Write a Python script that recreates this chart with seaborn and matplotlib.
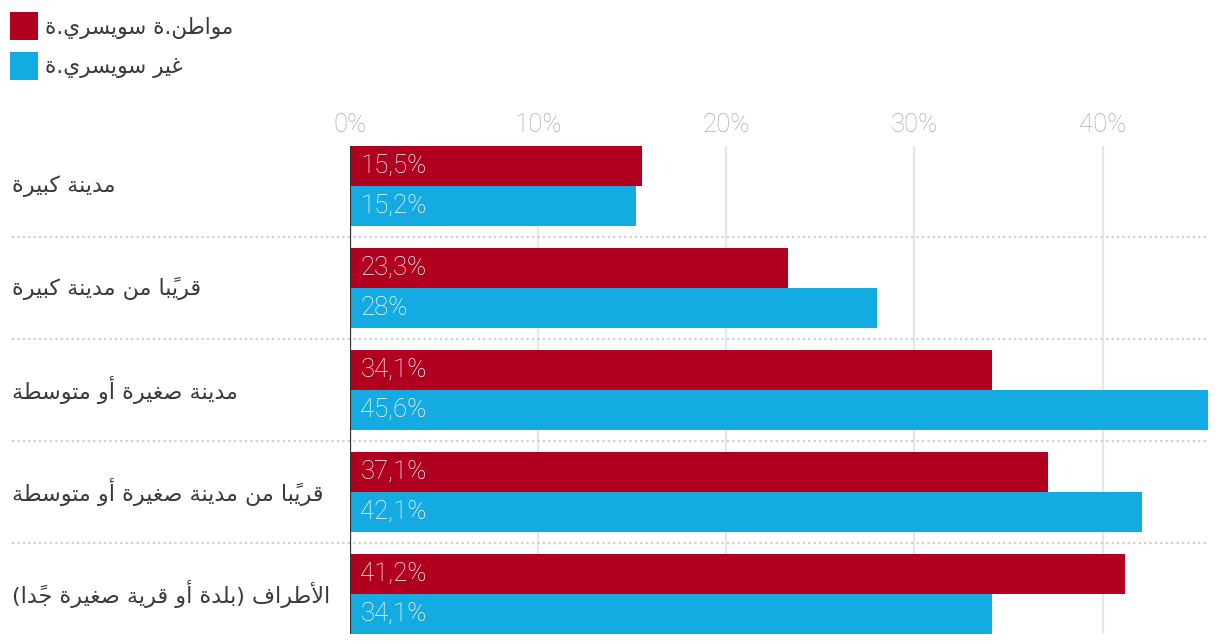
import matplotlib
matplotlib.use("Agg")
import matplotlib.pyplot as plt
import matplotlib.transforms as mtransforms
from matplotlib.patches import Rectangle
import pandas as pd
import seaborn as sns

# === Data ===
categories = [
    "مدينة كبيرة",
    "قريبًا من مدينة كبيرة",
    "مدينة صغيرة أو متوسطة",
    "قريبًا من مدينة صغيرة أو متوسطة",
    "الأطراف (بلدة أو قرية صغيرة جدًا)",
]
series_names = ["مواطن.ة سويسري.ة", "غير سويسري.ة"]
swiss = [15.5, 23.3, 34.1, 37.1, 41.2]
non_swiss = [15.2, 28, 45.6, 42.1, 34.1]
x_ticks = [0, 10, 20, 30, 40]
colors = ["#b1001f", "#14abe2"]

# === Minimal Arabic shaping (matplotlib has no bidi / joining) ===
FORMS = {  # isolated glyph, number of forms (2 = joins right only, 4 = both sides)
    "ا": (0xFE8D, 2), "أ": (0xFE83, 2), "ب": (0xFE8F, 4), "ة": (0xFE93, 2),
    "ت": (0xFE95, 4), "ج": (0xFE9D, 4), "د": (0xFEA9, 2), "ر": (0xFEAD, 2),
    "س": (0xFEB1, 4), "ص": (0xFEB9, 4), "ط": (0xFEC1, 4), "غ": (0xFECD, 4),
    "ف": (0xFED1, 4), "ق": (0xFED5, 4), "ك": (0xFED9, 4), "ل": (0xFEDD, 4),
    "م": (0xFEE1, 4), "ن": (0xFEE5, 4), "و": (0xFEED, 2), "ي": (0xFEF1, 4),
}
LAM_ALEF = {"ا": 0xFEFB, "أ": 0xFEF7}
MARKS = "\u064b\u064c\u064d\u064e\u064f\u0650\u0651\u0652"
MIRROR = {"(": ")", ")": "("}


def shape(text):
    clusters = []
    for ch in text:
        if ch in MARKS and clusters:
            clusters[-1][1] += ch
        elif clusters and clusters[-1][0] == "ل" and ch in LAM_ALEF and not clusters[-1][1]:
            clusters[-1][0] = "ل" + ch
        else:
            clusters.append([ch, ""])

    def joins_back(c):
        return c in FORMS or len(c) == 2

    def joins_fwd(c):
        return c in FORMS and FORMS[c][1] == 4

    out = []
    for i, (base, marks) in enumerate(clusters):
        prev = clusters[i - 1][0] if i > 0 else ""
        nxt = clusters[i + 1][0] if i + 1 < len(clusters) else ""
        jp = joins_fwd(prev) and joins_back(base)
        if len(base) == 2:  # lam-alef ligature
            glyph = chr(LAM_ALEF[base[1]] + (1 if jp else 0))
        elif base in FORMS:
            code, n = FORMS[base]
            jn = n == 4 and joins_back(nxt)
            idx = 3 if (jp and jn) else 1 if jp else 2 if jn else 0
            glyph = chr(code + idx)
        else:
            glyph = MIRROR.get(base, base)
        out.append(glyph + marks)
    return "".join(reversed(out))


# === Long-form table ===
df = pd.DataFrame({
    "category": categories * 2,
    "group": [series_names[0]] * len(categories) + [series_names[1]] * len(categories),
    "value": swiss + non_swiss,
})

sns.set_style("white")
plt.rcParams["font.family"] = ["Roboto", "DejaVu Sans"]

W, H = 1220, 644
fig = plt.figure(figsize=(W / 100, H / 100), dpi=100)
ax = fig.add_axes([350 / W, 10 / H, 858 / W, 488 / H])

sns.barplot(
    data=df, y="category", x="value", hue="group", order=categories,
    hue_order=series_names, palette=colors, orient="h", width=0.784,
    errorbar=None, legend=False, saturation=1, linewidth=0, ax=ax,
)

ax.set_xlim(0, 45.6)
ax.set_ylim(len(categories) - 1 + 0.392, -0.392)
ax.set_xticks(x_ticks)
ax.set_xticklabels([f"{t}%" for t in x_ticks])
ax.xaxis.tick_top()
ax.tick_params(axis="x", length=0, pad=6.5, labelsize=18.5, labelcolor="#aaaaaa")
for lab in ax.get_xticklabels():
    lab.set_fontweight("light")
ax.set_yticks([])
ax.set_xlabel("")
ax.set_ylabel("")
ax.grid(axis="x", color="#e6e6e6", linewidth=1.6)
ax.set_axisbelow(True)
for s in ax.spines.values():
    s.set_visible(False)
ax.axvline(0, color="#333333", linewidth=1.6, zorder=5)

# dotted separators between groups, running under the labels too
blend = mtransforms.blended_transform_factory(fig.transFigure, ax.transData)
for i in range(len(categories) - 1):
    ax.plot([12 / W, 1208 / W], [i + 0.5, i + 0.5], transform=blend,
            color="#cccccc", linewidth=1.5, linestyle=(0, (1, 1.6)),
            clip_on=False, zorder=1)

# category labels
for i, cat in enumerate(categories):
    ax.text(12 / W, i, shape(cat), transform=blend, ha="left", va="center",
            fontsize=16, color="#3a3a3a", family=["DejaVu Sans"])

# value labels inside the bars
for container, vals in zip(ax.containers, [swiss, non_swiss]):
    for bar, v in zip(container, vals):
        txt = f"{v:g}".replace(".", ",") + "%"
        ax.annotate(txt, xy=(0, bar.get_y() + bar.get_height() / 2),
                    xytext=(7.5, 0), textcoords="offset points",
                    ha="left", va="center", color="white", fontsize=18.5,
                    fontweight="light", zorder=6)

# legend: coloured squares + labels
for k, (name, c) in enumerate(zip(series_names, colors)):
    top = 12 + 40 * k
    fig.patches.append(Rectangle((10 / W, 1 - (top + 28) / H), 28 / W, 28 / H,
                                 transform=fig.transFigure, facecolor=c,
                                 edgecolor="none"))
    fig.text(45 / W, 1 - (top + 16) / H, shape(name), ha="left", va="center",
             fontsize=15.5, color="#3a3a3a", family=["DejaVu Sans"])

fig.savefig("out.png", dpi=100)
plt.close(fig)
